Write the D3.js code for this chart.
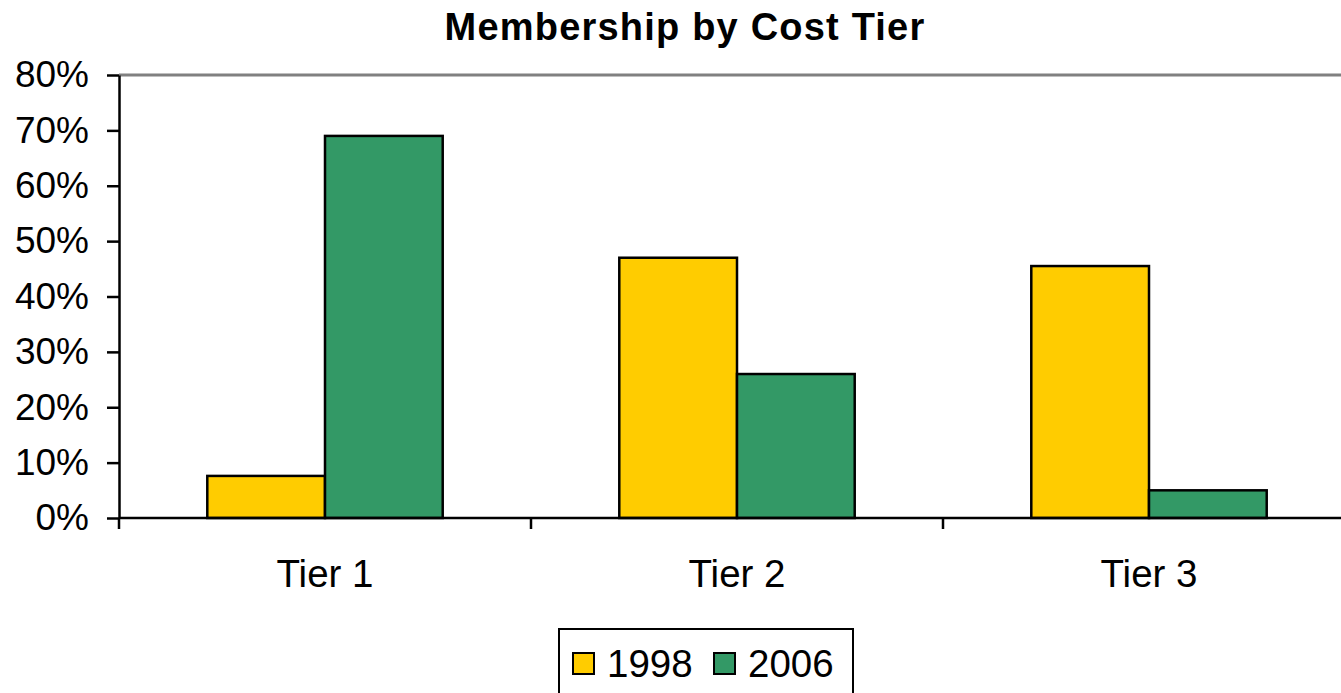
<!DOCTYPE html>
<html>
<head>
<meta charset="utf-8">
<script src="https://cdn.jsdelivr.net/npm/d3@7"></script>
<style>
  body { margin: 0; background: #fff; }
  text { font-family: Arial, "Liberation Sans", sans-serif; }
</style>
</head>
<body>
<div class="chart"></div>
<script>
var width = 1341
  , height = 693
  , tiers = ["Tier 1", "Tier 2", "Tier 3"]
  , series = ["1998", "2006"]
  , values1998 = [0.076, 0.47, 0.455]
  , values2006 = [0.69, 0.26, 0.05]
  , yTicks = [0, 0.1, 0.2, 0.3, 0.4, 0.5, 0.6, 0.7, 0.8]
  , colors = ["#ffcc00", "#339966"]
  ;

var rows = tiers.map(function(t, i) {
  return { tier: t, values: [values1998[i], values2006[i]] };
});

var plot = { left: 119, right: 1355, top: 75, bottom: 518 };

var svg = d3.select(".chart").append("svg")
  .attr("width", width)
  .attr("height", height);

var x0 = d3.scaleBand()
  .domain(tiers)
  .range([plot.left, plot.right]);

var x1 = d3.scaleBand()
  .domain(series)
  .range([0, x0.bandwidth()])
  .paddingOuter(0.75);

var y = d3.scaleLinear()
  .domain([0, 0.8])
  .range([plot.bottom, plot.top]);

// plot area frame (grey top + right)
svg.append("path")
  .attr("d", "M" + plot.left + "," + plot.top + "H" + plot.right + "V" + plot.bottom)
  .attr("fill", "none")
  .attr("stroke", "#808080")
  .attr("stroke-width", 3);

// bars
var g = svg.selectAll("g.tier")
  .data(rows)
  .enter().append("g")
  .attr("class", "tier")
  .attr("transform", function(d) { return "translate(" + x0(d.tier) + ",0)"; });

g.selectAll("rect")
  .data(function(d) { return d.values; })
  .enter().append("rect")
  .attr("x", function(d, i) { return x1(series[i]); })
  .attr("y", function(d) { return y(d); })
  .attr("width", x1.bandwidth())
  .attr("height", function(d) { return y(0) - y(d); })
  .attr("fill", function(d, i) { return colors[i]; })
  .attr("stroke", "#000")
  .attr("stroke-width", 2.5);

// y axis
var yAxis = svg.append("g")
  .attr("transform", "translate(" + plot.left + ",0)")
  .call(d3.axisLeft(y).tickValues(yTicks).tickFormat(d3.format(".0%"))
    .tickSize(12).tickSizeOuter(0).tickPadding(18));
yAxis.selectAll("text")
  .attr("font-size", 37)
  .attr("fill", "#000");
yAxis.selectAll("line, path").attr("stroke", "#000").attr("stroke-width", 2.5);

// x axis: labels at band centres, ticks at band edges
var xAxis = svg.append("g")
  .attr("transform", "translate(0," + plot.bottom + ")");
xAxis.append("line")
  .attr("x1", plot.left)
  .attr("x2", plot.right)
  .attr("stroke", "#000")
  .attr("stroke-width", 2.5);
xAxis.selectAll("line.tick")
  .data(tiers)
  .enter().append("line")
  .attr("class", "tick")
  .attr("x1", function(d) { return x0(d); })
  .attr("x2", function(d) { return x0(d); })
  .attr("y1", 0)
  .attr("y2", 11)
  .attr("stroke", "#000")
  .attr("stroke-width", 2.5);
xAxis.selectAll("text")
  .data(tiers)
  .enter().append("text")
  .attr("x", function(d) { return x0(d) + x0.bandwidth() / 2; })
  .attr("y", 69)
  .attr("text-anchor", "middle")
  .attr("font-size", 38.5)
  .text(function(d) { return d; });

// title
svg.append("text")
  .attr("x", 685)
  .attr("y", 40)
  .attr("text-anchor", "middle")
  .attr("font-size", 38)
  .attr("font-weight", "bold")
  .attr("letter-spacing", 1.2)
  .text("Membership by Cost Tier");

// legend
var legend = svg.append("g");
legend.append("rect")
  .attr("x", 559)
  .attr("y", 629)
  .attr("width", 294)
  .attr("height", 80)
  .attr("fill", "#fff")
  .attr("stroke", "#000")
  .attr("stroke-width", 2);

var item = legend.selectAll("g.item")
  .data(series)
  .enter().append("g")
  .attr("class", "item")
  .attr("transform", function(d, i) { return "translate(" + (573 + i * 141) + ",653)"; });
item.append("rect")
  .attr("width", 21)
  .attr("height", 21)
  .attr("fill", function(d, i) { return colors[i]; })
  .attr("stroke", "#000")
  .attr("stroke-width", 2);
item.append("text")
  .attr("x", 34)
  .attr("y", 24)
  .attr("font-size", 38.5)
  .text(function(d) { return d; });
</script>
</body>
</html>
